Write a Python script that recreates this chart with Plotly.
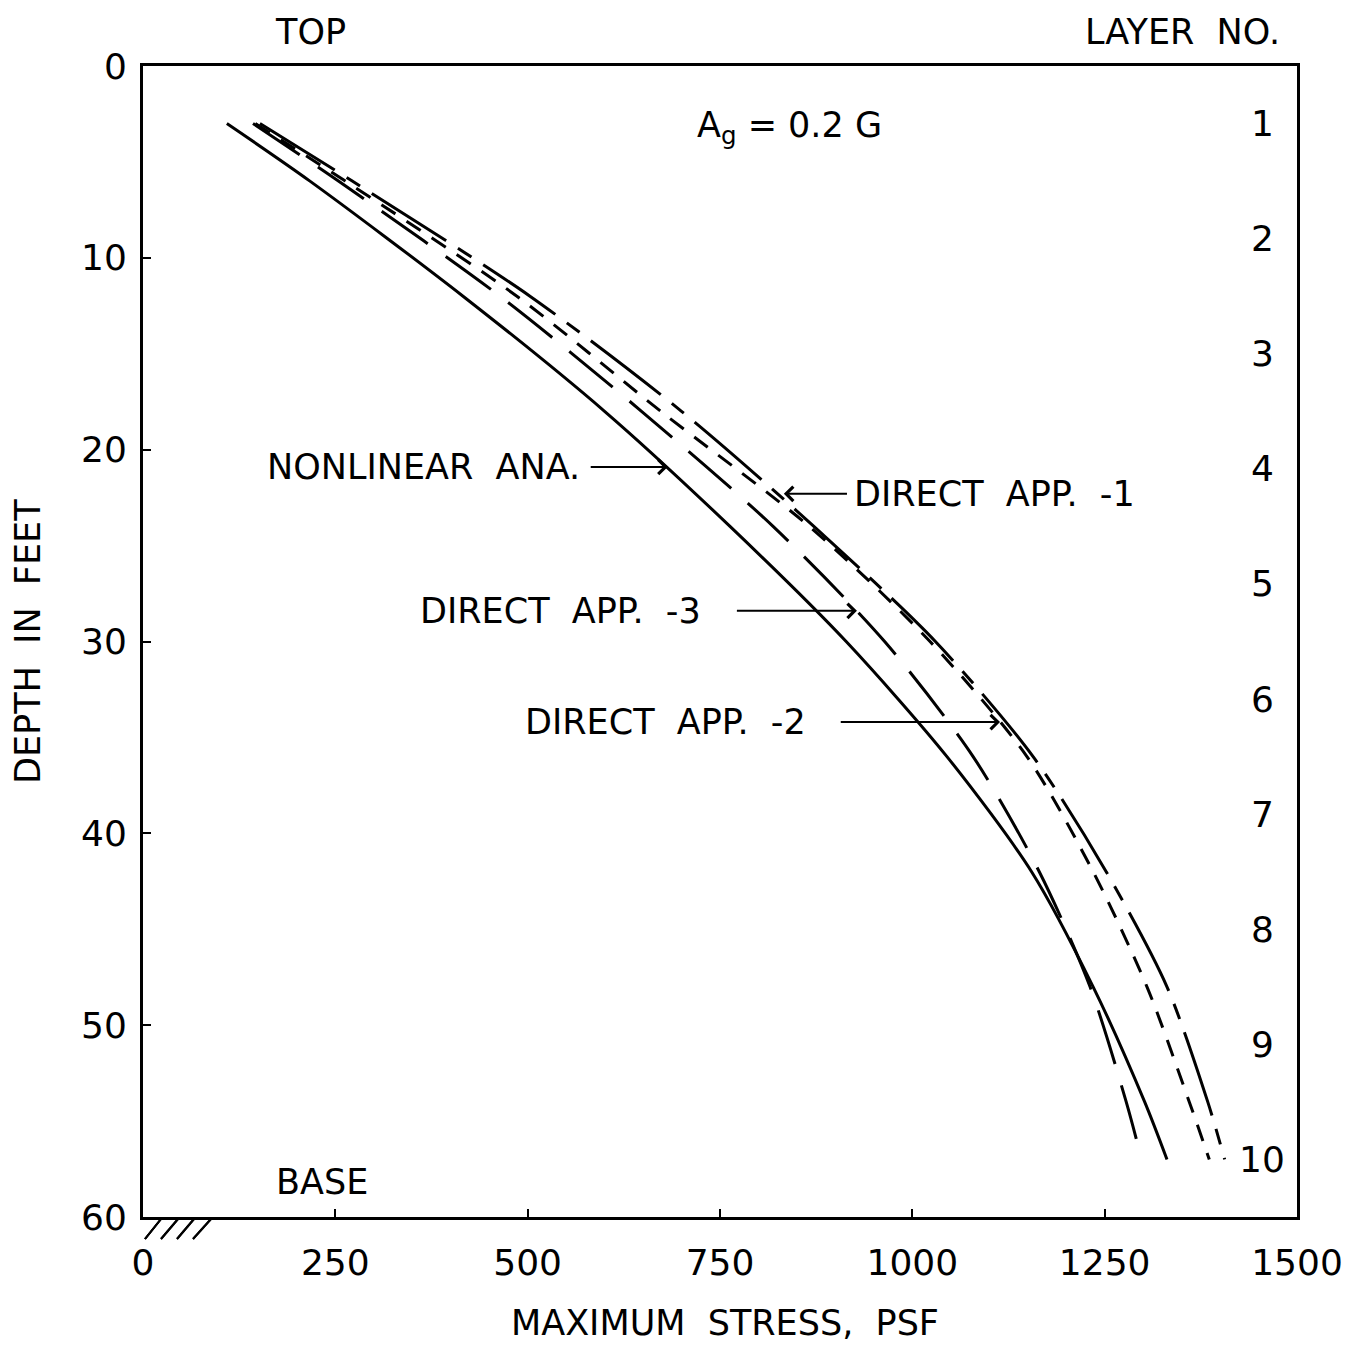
import plotly.graph_objects as go

# Depth (ft) at which each stress profile is read
depth = [3, 6, 12, 18, 24, 30, 36, 42, 48, 54, 57]

# Maximum shear stress (psf) for each method
nonlinear_ana = [109, 217, 416, 600, 763, 914, 1045, 1155, 1235, 1302, 1331]
direct_app_3 = [143, 254, 464, 648, 819, 964, 1079, 1165, 1231, 1278, 1298]
direct_app_2 = [146, 263, 486, 673, 866, 1023, 1149, 1235, 1305, 1360, 1386]
direct_app_1 = [152, 272, 503, 700, 872, 1030, 1157, 1252, 1331, 1384, 1406]

# Soil column: layer boundaries and layer numbers at mid-depth
layer_bounds = [6, 12, 18, 24, 30, 36, 42, 48, 54]
layer_mid = [3, 9, 15, 21, 27, 33, 39, 45, 51, 57]
layer_no = ["1", "2", "3", "4", "5", "6", "7", "8", "9", "10"]

x_ticks = [0, 250, 500, 750, 1000, 1250, 1500]
y_ticks = [0, 10, 20, 30, 40, 50, 60]

FONT = "DejaVu Sans"
INK = "black"
SP = "&nbsp; "

fig = go.Figure()

series = [
    ("NONLINEAR ANA.", nonlinear_ana, "solid"),
    ("DIRECT APP. -3", direct_app_3, "56px,22px"),
    ("DIRECT APP. -2", direct_app_2, "17px,13px"),
    ("DIRECT APP. -1", direct_app_1, "88px,14px,16px,14px"),
]
for name, vals, dash in series:
    fig.add_trace(go.Scatter(
        x=vals, y=depth, mode="lines", name=name,
        line=dict(color=INK, width=3, dash=dash, shape="spline", smoothing=0.8),
        showlegend=False,
    ))

for d in layer_bounds:
    fig.add_hline(y=d, line=dict(color=INK, width=3), layer="below")

annotations = []
for m, n in zip(layer_mid, layer_no):
    annotations.append(dict(x=1455, y=m, xref="x", yref="y", text=n, showarrow=False,
                            font=dict(size=36, family=FONT, color=INK)))

text_labels = [
    ("NONLINEAR" + SP + "ANA.", 159, 20.9, "left"),
    ("DIRECT" + SP + "APP." + SP + "-1", 921, 22.3, "left"),
    ("DIRECT" + SP + "APP." + SP + "-3", 357, 28.4, "left"),
    ("DIRECT" + SP + "APP." + SP + "-2", 494, 34.2, "left"),
    ("BASE", 233, 58.2, "center"),
    ("A<sub>g</sub> = 0.2 G", 840, 3.2, "center"),
]
for t, x, y, anc in text_labels:
    annotations.append(dict(x=x, y=y, xref="x", yref="y", text=t, showarrow=False,
                            xanchor=anc, yanchor="middle",
                            font=dict(size=35, family=FONT, color=INK)))

# Pointer arrows: (tail x, tail y) -> (head x, head y)
arrows = [
    (580, 20.9, 682, 20.9),
    (917, 22.3, 833, 22.3),
    (770, 28.4, 928, 28.4),
    (905, 34.2, 1114, 34.2),
]
for ax, ay, x, y in arrows:
    annotations.append(dict(x=x, y=y, ax=ax, ay=ay, xref="x", yref="y", axref="x", ayref="y",
                            text="", showarrow=True, arrowhead=4, arrowsize=1.4,
                            arrowwidth=2, arrowcolor=INK))


def px_x(p):
    return (p - 143) / 1154


def px_y(p):
    return (1217 - p) / 1151


annotations += [
    dict(x=px_x(310), y=px_y(32), xref="paper", yref="paper", text="TOP",
         xanchor="center", yanchor="middle", showarrow=False,
         font=dict(size=35, family=FONT, color=INK)),
    dict(x=px_x(1182), y=px_y(32), xref="paper", yref="paper", text="LAYER" + SP + "NO.",
         xanchor="center", yanchor="middle", showarrow=False,
         font=dict(size=35, family=FONT, color=INK)),
    dict(x=px_x(725), y=px_y(1323), xref="paper", yref="paper",
         text="MAXIMUM" + SP + "STRESS," + SP + "PSF",
         xanchor="center", yanchor="middle", showarrow=False,
         font=dict(size=35, family=FONT, color=INK)),
    dict(x=px_x(28), y=px_y(642), xref="paper", yref="paper",
         text="DEPTH" + SP + "IN" + SP + "FEET",
         xanchor="center", yanchor="middle", showarrow=False, textangle=-90,
         font=dict(size=35, family=FONT, color=INK)),
]

# Hatching under the base of the soil column
shapes = []
for x0, x1 in [(145, 161), (161, 178), (177, 194), (193, 211)]:
    shapes.append(dict(type="line", xref="paper", yref="paper",
                       x0=px_x(x0), y0=px_y(1239), x1=px_x(x1), y1=px_y(1219),
                       line=dict(color=INK, width=2)))

axis_common = dict(
    showgrid=False, zeroline=False, showline=True, linecolor=INK, linewidth=3,
    mirror=True, ticks="inside", ticklen=8, tickwidth=2, tickcolor=INK,
    tickfont=dict(size=36, family=FONT, color=INK), automargin=False,
)

fig.update_layout(
    width=1348, height=1352,
    margin=dict(l=143, r=51, t=66, b=135),
    paper_bgcolor="white", plot_bgcolor="white",
    xaxis=dict(range=[0, 1500], tickvals=x_ticks, ticklabelstandoff=12, **axis_common),
    yaxis=dict(range=[60, 0], tickvals=y_ticks, ticklabelstandoff=6, **axis_common),
    annotations=annotations,
    shapes=shapes,
)

fig.write_html("out.html")
